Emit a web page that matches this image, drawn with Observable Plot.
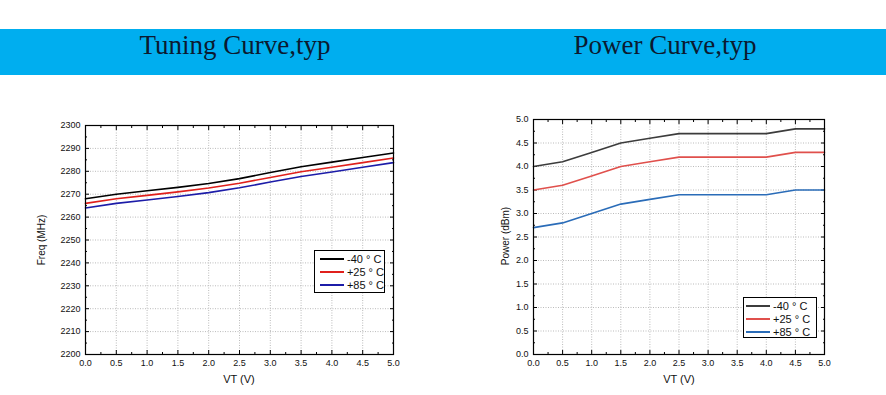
<!DOCTYPE html>
<html><head><meta charset="utf-8">
<script src="https://cdn.jsdelivr.net/npm/d3@7"></script>
<script src="https://cdn.jsdelivr.net/npm/@observablehq/plot@0.6"></script>
<style>
body{margin:0;width:886px;height:395px;position:relative;background:#fff;overflow:hidden;font-family:"Liberation Sans",Arial,sans-serif}
#banner{position:absolute;left:0;top:29px;width:886px;height:46px;background:#00aeef}
.title{position:absolute;top:30px;font-family:"Liberation Serif","Times New Roman",serif;font-size:27px;color:#0b1a30;transform:translateX(-50%);white-space:nowrap}
.chart{position:absolute;top:100px}
.xlab{position:absolute;top:373px;font-size:11px;color:#111;transform:translateX(-50%);white-space:nowrap}
.ylab{position:absolute;font-size:10px;color:#111;transform:translate(-50%,-50%) rotate(-90deg);white-space:nowrap}
.legend{position:absolute;border:1px solid #000;background:#fff;font-size:11px;color:#111;white-space:nowrap;box-sizing:border-box}
.legend div{display:flex;align-items:center;height:13px}
.legend span.sw{display:inline-block;width:24px;height:2px;margin:0 3px 0 5px}
</style>
</head><body>
<div id="banner"></div>
<div id="root"></div>
<script>
const vt = [0, 0.5, 1, 1.5, 2, 2.5, 3, 3.5, 4, 4.5, 5];
const seriesNames = ["-40 ° C", "+25 ° C", "+85 ° C"];
const freqM40 = [2268, 2270, 2271.5, 2273, 2274.7, 2276.8, 2279.5, 2282, 2284, 2286, 2288];
const freqP25 = [2266, 2268, 2269.5, 2271, 2272.7, 2274.8, 2277.3, 2279.8, 2281.8, 2283.8, 2285.8];
const freqP85 = [2264, 2266, 2267.5, 2269, 2270.7, 2272.8, 2275.3, 2277.7, 2279.7, 2281.8, 2283.8];
const powM40 = [4.0, 4.1, 4.3, 4.5, 4.6, 4.7, 4.7, 4.7, 4.7, 4.8, 4.8];
const powP25 = [3.5, 3.6, 3.8, 4.0, 4.1, 4.2, 4.2, 4.2, 4.2, 4.3, 4.3];
const powP85 = [2.7, 2.8, 3.0, 3.2, 3.3, 3.4, 3.4, 3.4, 3.4, 3.5, 3.5];
const xTicks = [0, 0.5, 1, 1.5, 2, 2.5, 3, 3.5, 4, 4.5, 5];
const freqTicks = [2200, 2210, 2220, 2230, 2240, 2250, 2260, 2270, 2280, 2290, 2300];
const powTicks = [0, 0.5, 1, 1.5, 2, 2.5, 3, 3.5, 4, 4.5, 5];
const titles = ["Tuning Curve,typ", "Power Curve,typ"];
const xLabel = "VT (V)";
const yLabels = ["Freq (MHz)", "Power (dBm)"];
const tuneColors = ["#000000", "#e0201c", "#1c1ca8"];
const powColors = ["#3c3c3c", "#e0504c", "#2a6cb8"];

function table(arrs) {
  const rows = [];
  arrs.forEach((a, i) => a.forEach((v, j) => rows.push({vt: vt[j], value: v, series: seriesNames[i]})));
  return rows;
}
function minor(ticks) {
  const out = [];
  for (let i = 0; i < ticks.length - 1; i++) out.push((ticks[i] + ticks[i + 1]) / 2);
  return out;
}

function makeChart({data, yTicks, yDomain, colors, left, width, ml, mr, mt, fmtY}) {
  const mb = 41, height = 295;
  const tickStyle = {stroke: "#000", strokeWidth: 1};
  const p = Plot.plot({
    width, height, marginLeft: ml, marginRight: mr, marginTop: mt, marginBottom: mb,
    x: {domain: [0, 5]},
    y: {domain: yDomain},
    color: {domain: seriesNames, range: colors},
    style: {fontSize: "9px", fontFamily: "'Liberation Sans', Arial, sans-serif", color: "#111", background: "transparent"},
    marks: [
      Plot.gridX(xTicks, {stroke: "#bbb", strokeOpacity: 1, strokeDasharray: "1,1.5"}),
      Plot.gridY(yTicks, {stroke: "#bbb", strokeOpacity: 1, strokeDasharray: "1,1.5"}),
      Plot.axisX(xTicks, {anchor: "bottom", tickSize: 0, tickPadding: 5, label: null, tickFormat: d3.format(".1f")}),
      Plot.axisY(yTicks, {anchor: "left", tickSize: 0, tickPadding: 5, label: null, tickFormat: fmtY}),
      Plot.axisX(xTicks, {anchor: "bottom", tickSize: -4, tickFormat: () => "", label: null, ...tickStyle}),
      Plot.axisX(xTicks, {anchor: "top", tickSize: -4, tickFormat: () => "", label: null, ...tickStyle}),
      Plot.axisX(minor(xTicks), {anchor: "bottom", tickSize: -2, tickFormat: () => "", label: null, ...tickStyle}),
      Plot.axisX(minor(xTicks), {anchor: "top", tickSize: -2, tickFormat: () => "", label: null, ...tickStyle}),
      Plot.axisY(yTicks, {anchor: "left", tickSize: -4, tickFormat: () => "", label: null, ...tickStyle}),
      Plot.axisY(yTicks, {anchor: "right", tickSize: -4, tickFormat: () => "", label: null, ...tickStyle}),
      Plot.axisY(minor(yTicks), {anchor: "left", tickSize: -2, tickFormat: () => "", label: null, ...tickStyle}),
      Plot.axisY(minor(yTicks), {anchor: "right", tickSize: -2, tickFormat: () => "", label: null, ...tickStyle}),
      Plot.line(data, {x: "vt", y: "value", z: "series", stroke: "series", strokeWidth: 1.6}),
      Plot.frame({stroke: "#000", strokeWidth: 1.2})
    ]
  });
  p.classList.add("chart");
  p.style.left = left + "px";
  return p;
}

const root = document.getElementById("root");
root.appendChild(makeChart({
  data: table([freqM40, freqP25, freqP85]), yTicks: freqTicks, yDomain: [2200, 2300],
  colors: tuneColors, left: 0, width: 443, ml: 85, mr: 50, mt: 25, fmtY: d3.format("d")
}));
root.appendChild(makeChart({
  data: table([powM40, powP25, powP85]), yTicks: powTicks, yDomain: [0, 5],
  colors: powColors, left: 443, width: 443, ml: 90, mr: 62, mt: 19, fmtY: d3.format(".1f")
}));

function addDiv(cls, text, css) {
  const d = document.createElement("div");
  d.className = cls; d.textContent = text;
  Object.assign(d.style, css);
  document.body.appendChild(d);
  return d;
}
addDiv("title", titles[0], {left: "235px"});
addDiv("title", titles[1], {left: "665px"});
addDiv("xlab", xLabel, {left: "239px"});
addDiv("xlab", xLabel, {left: "679px"});
addDiv("ylab", yLabels[0], {left: "41px", top: "240px"});
addDiv("ylab", yLabels[1], {left: "505px", top: "236px"});

function legend(colors, css, swMargin) {
  const box = document.createElement("div");
  box.className = "legend";
  Object.assign(box.style, css);
  seriesNames.forEach((n, i) => {
    const row = document.createElement("div");
    const sw = document.createElement("span");
    sw.className = "sw"; sw.style.background = colors[i];
    sw.style.margin = swMargin;
    row.appendChild(sw);
    row.appendChild(document.createTextNode(n));
    box.appendChild(row);
  });
  document.body.appendChild(box);
}
legend(tuneColors, {left: "314px", top: "250px", width: "71px", padding: "1px 0"}, "0 3px 0 5px");
legend(powColors, {left: "743px", top: "297px", width: "74px", height: "41px", padding: "1px 0"}, "0 3px 0 2px");
</script>
</body></html>
